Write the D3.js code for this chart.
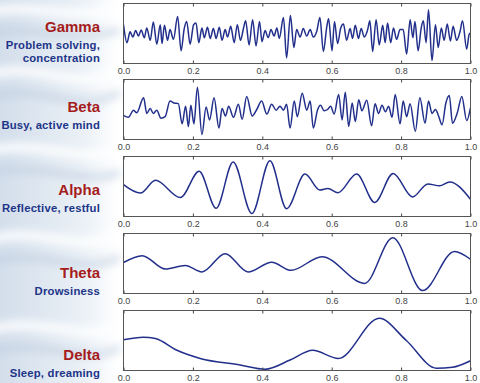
<!DOCTYPE html>
<html>
<head>
<meta charset="utf-8">
<script src="https://cdn.jsdelivr.net/npm/d3@7"></script>
<style>
  html, body { margin: 0; padding: 0; background: #fff; }
  svg { display: block; }
</style>
</head>
<body>
<div id="chart"></div>
<script>
// band names + descriptions (left labels)
const bandNames = ["Gamma", "Beta", "Alpha", "Theta", "Delta"];
const bandNotes = [
  ["Problem solving,", "concentration"],
  ["Busy, active mind"],
  ["Reflective, restful"],
  ["Drowsiness"],
  ["Sleep, dreaming"]
];
const tickValues = [0, 200, 400, 600, 800, 1000];   // ms
const tickLabels = ["0.0", "0.2", "0.4", "0.6", "0.8", "1.0"];

// traces: [time ms, amplitude] (peaks / troughs)
const gammaWave = [
  [0,27],[10,-28],[19,5],[27,-11],[35,9],[43,-8],[51,11],[60,-13],[67,17],[77,-21],
  [86,35],[96,-33],[106,27],[111,-31],[118,25],[127,-21],[134,12],[144,-18],[156,52],[166,-53],
  [175,15],[182,37],[192,-33],[202,27],[209,32],[217,-28],[226,17],[233,-13],[242,19],[250,-15],
  [259,15],[267,-15],[276,19],[284,-21],[293,12],[300,-11],[309,22],[319,-28],[328,27],[337,-21],
  [346,17],[352,39],[362,-35],[372,42],[382,-38],[392,37],[399,-25],[408,9],[417,-13],[425,12],
  [434,-8],[442,17],[449,-15],[461,49],[470,-75],[481,55],[491,-43],[499,12],[509,-11],[518,15],
  [528,-8],[538,12],[547,-11],[557,7],[566,49],[576,-55],[586,22],[591,45],[601,-53],[608,37],
  [617,-31],[626,17],[634,29],[643,-21],[653,15],[660,-15],[668,25],[677,-15],[685,15],[694,-11],
  [703,9],[710,39],[718,-55],[728,42],[737,-35],[747,25],[754,-28],[761,32],[770,-28],[778,17],
  [787,-18],[797,12],[806,12],[816,-63],[826,42],[834,-13],[840,37],[849,-53],[858,17],[864,39],
  [872,-28],[879,73],[889,-83],[899,27],[907,-43],[916,17],[924,-21],[933,29],[942,-23],[950,22],
  [960,-21],[970,7],[977,39],[989,-48],[996,-3],[1000,2]
];
const betaWave = [
  [0,-18],[14,-24],[29,-2],[38,-10],[58,36],[67,-12],[77,3],[86,-12],[96,-2],[108,-27],
  [120,-22],[134,26],[146,20],[158,18],[169,-44],[179,10],[187,-52],[194,13],[203,-44],[213,68],
  [226,-77],[238,8],[248,-32],[261,36],[275,-57],[284,3],[294,-20],[303,10],[317,-24],[331,16],
  [342,-30],[355,40],[371,-20],[384,0],[398,26],[413,-14],[427,16],[440,-2],[451,10],[461,-2],
  [470,16],[480,-57],[492,26],[501,-22],[515,50],[528,-2],[538,26],[547,-57],[559,-2],[568,13],
  [578,-4],[588,0],[597,10],[607,-14],[620,46],[630,-32],[639,53],[649,-52],[659,20],[668,-37],
  [678,30],[687,-4],[701,28],[715,-50],[725,18],[735,-12],[745,13],[755,-7],[764,10],[774,-24],
  [783,46],[797,-44],[806,26],[816,-22],[826,18],[841,-67],[854,36],[869,-42],[879,26],[889,-12],
  [899,0],[908,-20],[918,-47],[929,20],[939,43],[948,-42],[962,-10],[975,40],[989,-34],[1000,6]
];
const alphaWave = [
  [0,6],[49,-20],[92,19],[164,-34],[218,47],[267,-67],[316,75],[370,-83],[422,79],[470,-68],
  [523,38],[566,-11],[589,-6],[618,-19],[672,38],[724,-49],[777,40],[833,-32],[877,8],[911,2],
  [940,14],[1000,-39]
];
const thetaWave = [
  [0,3],[54,24],[121,-17],[178,-6],[226,-26],[293,30],[359,-26],[427,4],[483,-21],[572,21],
  [695,-61],[776,79],[862,-83],[954,37],[1000,13]
];
const deltaWave = [
  [0,2],[57,10],[92,6],[154,-30],[221,-55],[336,-75],[408,-88],[480,-60],[545,-30],[619,-55],
  [737,68],[815,0],[902,-85],[948,-82],[1000,-62]
];
const waves = [gammaWave, betaWave, alphaWave, thetaWave, deltaWave];

const width = 480, height = 383;
const panelTops = [3, 79, 156, 233, 310];
const panelH = 60;
const lineColor = "#22308c";

const svg = d3.select("#chart").append("svg")
  .attr("width", width)
  .attr("height", height);

// soft blue backdrop behind the labels
const defs = svg.append("defs");
const grad = defs.append("linearGradient").attr("id", "bg").attr("x1", 0).attr("x2", 1);
grad.append("stop").attr("offset", "0%").attr("stop-color", "#d3deeb");
grad.append("stop").attr("offset", "70%").attr("stop-color", "#eaf0f6");
grad.append("stop").attr("offset", "100%").attr("stop-color", "#ffffff");
const blur = defs.append("filter").attr("id", "soft");
blur.append("feGaussianBlur").attr("stdDeviation", 4);

svg.append("rect").attr("x", 0).attr("y", 0).attr("width", 118).attr("height", height)
  .attr("fill", "url(#bg)");

const swooshes = [
  "M-10,12 C30,2 70,22 120,8",
  "M-10,75 C40,60 80,95 120,70",
  "M-10,150 C40,140 90,165 120,150",
  "M-10,240 C40,225 80,255 120,235",
  "M-10,330 C40,315 90,345 120,325"
];
svg.append("g").attr("filter", "url(#soft)")
  .selectAll("path").data(swooshes).join("path")
  .attr("d", d => d)
  .attr("fill", "none")
  .attr("stroke", "#ffffff")
  .attr("stroke-width", 10)
  .attr("opacity", 0.85);
svg.append("g").attr("filter", "url(#soft)")
  .selectAll("path").data(swooshes).join("path")
  .attr("d", d => d)
  .attr("transform", "translate(0,22)")
  .attr("fill", "none")
  .attr("stroke", "#bccbdd")
  .attr("stroke-width", 7)
  .attr("opacity", 0.6);

const x = d3.scaleLinear().domain([0, 1000]).range([123.5, 470.5]);
const y = d3.scaleLinear().domain([-92, 92]).range([panelH, 0]);

const line = d3.line()
  .x(d => x(d[0]))
  .y(d => y(d[1]))
  .curve(d3.curveMonotoneX);

waves.forEach((wave, i) => {
  const top = panelTops[i];
  const g = svg.append("g").attr("transform", `translate(0,${top + 0.5})`);

  g.append("rect")
    .attr("x", x(0)).attr("y", 0)
    .attr("width", x(1000) - x(0)).attr("height", panelH)
    .attr("fill", "#fff");

  defs.append("clipPath").attr("id", "clip" + i)
    .append("rect")
    .attr("x", x(0)).attr("y", 0)
    .attr("width", x(1000) - x(0)).attr("height", panelH);

  g.append("path")
    .datum(wave)
    .attr("clip-path", `url(#clip${i})`)
    .attr("d", line)
    .attr("fill", "none")
    .attr("stroke", lineColor)
    .attr("stroke-width", 1.5)
    .attr("stroke-linejoin", "round");

  const bottomAxis = d3.axisBottom(x)
    .tickValues(tickValues)
    .tickFormat((d, k) => tickLabels[k])
    .tickSizeInner(-3)
    .tickSizeOuter(0)
    .tickPadding(4);
  const ax = g.append("g").attr("transform", `translate(0,${panelH})`).call(bottomAxis);
  ax.select(".domain").remove();
  ax.selectAll("line").attr("stroke", "#444");
  ax.selectAll("text")
    .style("font-family", "Liberation Sans, Arial, sans-serif")
    .style("font-size", "9px")
    .attr("fill", "#444");

  const topAxis = d3.axisTop(x).tickValues(tickValues).tickFormat("").tickSizeInner(-3).tickSizeOuter(0);
  const at = g.append("g").call(topAxis);
  at.select(".domain").remove();
  at.selectAll("line").attr("stroke", "#444");

  g.append("rect")
    .attr("x", x(0)).attr("y", 0)
    .attr("width", x(1000) - x(0)).attr("height", panelH)
    .attr("fill", "none")
    .attr("stroke", "#555")
    .attr("stroke-width", 1);
});

// left labels
const nameY = [32, 112, 195, 278, 360];
bandNames.forEach((name, i) => {
  svg.append("text")
    .attr("x", 100).attr("y", nameY[i])
    .attr("text-anchor", "end")
    .style("font-family", "Liberation Sans, Arial, sans-serif")
    .style("font-weight", "bold")
    .style("font-size", "15px")
    .attr("fill", "#a51c1c")
    .text(name);
  bandNotes[i].forEach((note, j) => {
    svg.append("text")
      .attr("x", 100).attr("y", nameY[i] + 17 + j * 13)
      .attr("text-anchor", "end")
      .style("font-family", "Liberation Sans, Arial, sans-serif")
      .style("font-weight", "bold")
      .style("font-size", "11.3px")
      .style("letter-spacing", "0.2px")
      .attr("fill", "#1d3589")
      .text(note);
  });
});
</script>
</body>
</html>
